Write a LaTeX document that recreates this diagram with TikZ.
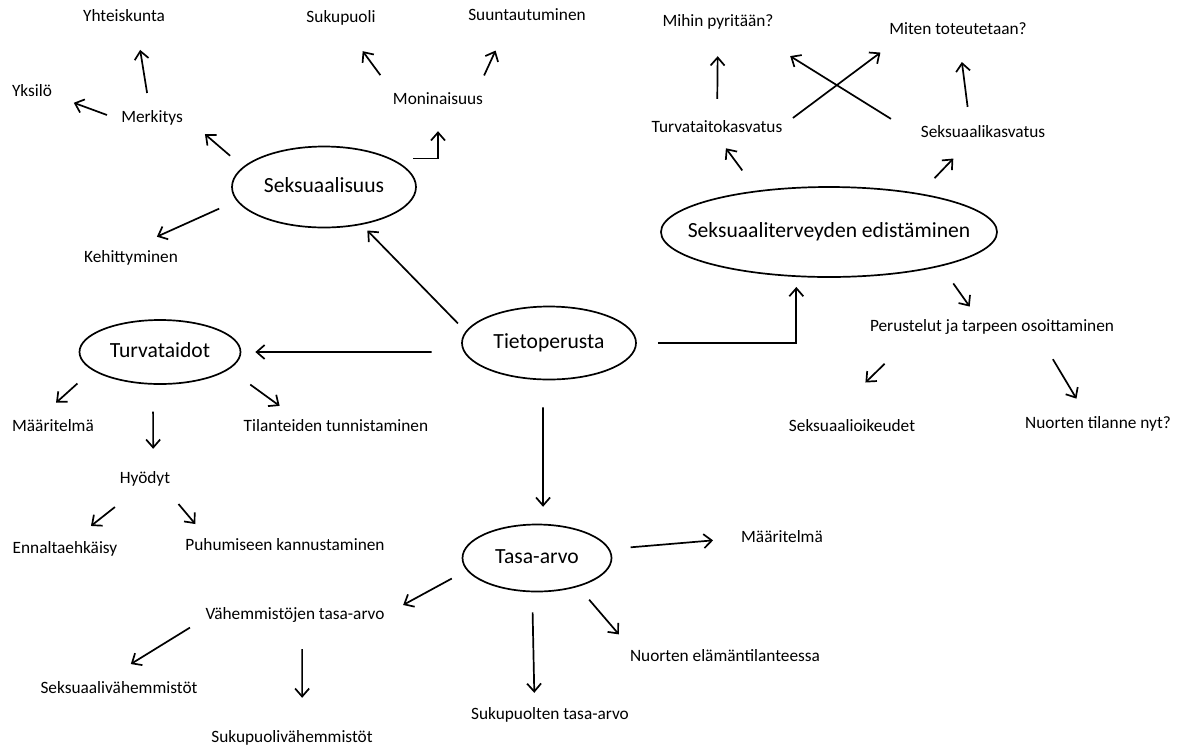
\documentclass[tikz,border=0pt]{standalone}
\usepackage{fontspec}
\setmainfont{Carlito}
\usetikzlibrary{arrows.meta, shapes.geometric}

\tikzset{
  txt/.style={inner sep=0pt, text height=12pt, text depth=4pt, font=\fontsize{17.3}{20}\selectfont},
  bubble/.style={ellipse, draw, line width=1.7pt, inner sep=0pt, text height=15pt, text depth=4pt, font=\fontsize{21.6}{26}\selectfont},
  arr/.style={-{Straight Barb[length=8pt,width=14pt]}, line width=1.7pt},
}
\newcommand{\bubtext}[1]{\makebox[0pt]{#1}}

\begin{document}
\begin{tikzpicture}[x=1pt, y=-1pt]
\useasboundingbox (0,0) rectangle (1180,748);

% main bubbles
\node[bubble, minimum width=184pt, minimum height=81pt] (S) at (324,187) {\bubtext{Seksuaalisuus}};
\node[bubble, minimum width=336pt, minimum height=90pt] (E) at (829,232) {\bubtext{Seksuaaliterveyden edistäminen}};
\node[bubble, minimum width=174pt, minimum height=73pt] (T) at (549,343) {\bubtext{Tietoperusta}};
\node[bubble, minimum width=161pt, minimum height=64pt] (V) at (160,352) {\bubtext{Turvataidot}};
\node[bubble, minimum width=149pt, minimum height=67pt] (A) at (537,558) {\bubtext{Tasa-arvo}};

% Seksuaalisuus
\node[txt] (yh) at (124,17) {Yhteiskunta};
\node[txt] (yk) at (32,92) {Yksilö};
\node[txt] (me) at (152,118) {Merkitys};
\node[txt] (ke) at (131,258) {Kehittyminen};
\node[txt] (su) at (341,18) {Sukupuoli};
\node[txt] (mo) at (438,100) {Moninaisuus};
\node[txt] (sa) at (527,16) {Suuntautuminen};

% Seksuaaliterveyden edistaminen
\node[txt] (mp) at (718,22) {Mihin pyritään?};
\node[txt] (mt) at (958,30) {Miten toteutetaan?};
\node[txt] (tk) at (717,128) {Turvataitokasvatus};
\node[txt] (sk) at (983,133) {Seksuaalikasvatus};
\node[txt] (pt) at (992,327) {Perustelut ja tarpeen osoittaminen};
\node[txt] (so) at (852,427) {Seksuaalioikeudet};
\node[txt] (nt) at (1098,424) {Nuorten tilanne nyt?};

% Turvataidot
\node[txt] (m1) at (53,427) {Määritelmä};
\node[txt] (ti) at (336,427) {Tilanteiden tunnistaminen};
\node[txt] (hy) at (145,479) {Hyödyt};
\node[txt] (en) at (65,549) {Ennaltaehkäisy};
\node[txt] (pk) at (285,546) {Puhumiseen kannustaminen};

% Tasa-arvo
\node[txt] (m2) at (782,538) {Määritelmä};
\node[txt] (ne) at (725,657) {Nuorten elämäntilanteessa};
\node[txt] (st) at (550,715) {Sukupuolten tasa-arvo};
\node[txt] (vt) at (295,615) {Vähemmistöjen tasa-arvo};
\node[txt] (sv) at (119,689) {Seksuaalivähemmistöt};
\node[txt] (uv) at (292,738) {Sukupuolivähemmistöt};

\path [arr] (me.105) edge [shorten <=17pt, shorten >=25pt] (yh.326);
\path [arr] (me.184) edge [shorten <=15pt, shorten >=23pt] (yk.352);
\path [arr] (S.166) edge [shorten <=17pt, shorten >=29pt] (me.5);
\path [arr] (S.189) edge [shorten <=19pt, shorten >=32pt] (ke.112);
\path [arr] (mo.170) edge [shorten <=21pt, shorten >=31pt] (su.292);
\path [arr] (mo.12) edge [shorten <=18pt, shorten >=29pt] (sa.203);
\draw [arr, shorten <=22pt, shorten >=23pt] (S.23) -| (mo);

\path [arr] (T.172) edge [shorten <=11pt, shorten >=8pt] (S.315);
\path [arr] (T.186) edge [shorten <=32pt, shorten >=14pt] (V.east);
\draw [arr, shorten <=21pt, shorten >=10pt] (T.east) -| (E.234);
\path [arr] (T.261) edge [shorten <=27pt, shorten >=17pt] (A.80);

\path [arr] (E.150) edge [shorten <=25pt, shorten >=15pt] (tk.south);
\path [arr] (E.23) edge [shorten <=21pt, shorten >=24pt] (sk.212);
\path [arr] (tk) edge [shorten <=21pt, shorten >=26pt] (mp);
\path [arr] (sk.148) edge [shorten <=18pt, shorten >=24pt] (mt.276);
\path [arr] (tk.2) edge [shorten <=13pt, shorten >=24pt] (mt.188);
\path [arr] (sk.184) edge [shorten <=35pt, shorten >=49pt] (mp.345);
\path [arr] (E.343) edge [shorten <=21pt, shorten >=15pt] (pt.149);
\path [arr] (pt.186) edge [shorten <=41pt, shorten >=52pt] (so.161);
\path [arr] (pt.350) edge [shorten <=28pt, shorten >=20pt] (nt.144);

\path [arr] (V.195) edge [shorten <=20pt, shorten >=24pt] (m1.151);
\path [arr] (V.258) edge [shorten <=27pt, shorten >=22pt] (hy.45);
\path [arr] (V.346) edge [shorten <=26pt, shorten >=22pt] (ti.168);
\path [arr] (hy.239) edge [shorten <=32pt, shorten >=24pt] (en.49);
\path [arr] (hy.337) edge [shorten <=22pt, shorten >=18pt] (pk.174);

\path [arr] (A.7) edge [shorten <=21pt, shorten >=28pt] (m2.west);
\path [arr] (A.190) edge [shorten <=17pt, shorten >=21pt] (vt.east);
\path [arr] (A.262) edge [shorten <=20pt, shorten >=14pt] (st.152);
\path [arr] (A.325) edge [shorten <=17pt, shorten >=19pt] (ne.175);
\path [arr] (vt.182) edge [shorten <=18pt, shorten >=32pt] (sv.152);
\path [arr] (vt.311) edge [shorten <=26pt, shorten >=32pt] (uv.39);
\end{tikzpicture}
\end{document}
